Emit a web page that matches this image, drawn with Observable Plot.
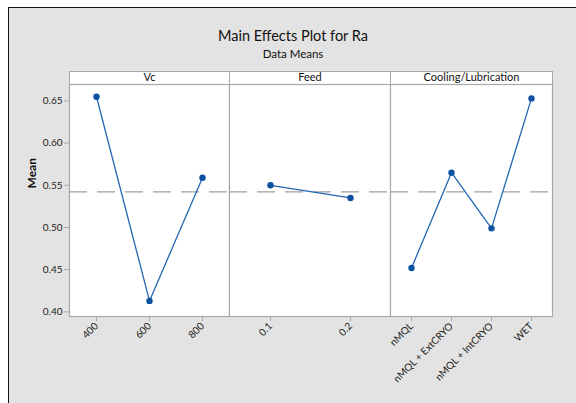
<!DOCTYPE html>
<html>
<head>
<meta charset="utf-8">
<script src="https://cdn.jsdelivr.net/npm/d3@7"></script>
<script src="https://cdn.jsdelivr.net/npm/@observablehq/plot@0.6"></script>
<style>
  body { margin: 0; width: 576px; height: 403px; background: #fff; position: relative; overflow: hidden;
         font-family: Lato, "Open Sans", sans-serif; }
  #backdrop { position: absolute; left: 8px; top: 7px; right: 0; bottom: 0; background: #e3e3e3;
              border-left: 1.5px solid #111; border-top: 1.5px solid #111; }
  .title { position: absolute; left: 193px; width: 200px; text-align: center; color: #111; }
  #t1 { top: 27px; font-size: 14.5px; }
  #t2 { top: 47px; font-size: 11.5px; }
  .strip { position: absolute; top: 71px; height: 12px; background: #fff; border: 1px solid #a8a8a8; box-sizing: content-box; }
  .panel { position: absolute; top: 0; }
</style>
</head>
<body>
<div id="backdrop"></div>
<div class="title" id="t1">Main Effects Plot for Ra</div>
<div class="title" id="t2">Data Means</div>
<div id="chart"></div>
<script>
// Factor names and level means of Ra
const factors = ["Vc", "Feed", "Cooling/Lubrication"];
const vcLevels = ["400", "600", "800"];
const vcMeans = [0.655, 0.413, 0.559];
const feedLevels = ["0.1", "0.2"];
const feedMeans = [0.550, 0.535];
const coolLevels = ["nMQL", "nMQL + ExtCRYO", "nMQL + IntCRYO", "WET"];
const coolMeans = [0.452, 0.565, 0.499, 0.653];
const yTicks = [0.40, 0.45, 0.50, 0.55, 0.60, 0.65];

// overall mean of the response (balanced design)
const grandMean = d3.mean(vcMeans);

const yDomain = [0.3945, 0.6695];
const lineColor = "#2366b4";
const dotColor = "#0b519f";
const gridGray = "#a8a8a8";

const panels = [
  {factor: factors[0], levels: vcLevels, means: vcMeans, left: 0, width: 229, ml: 69, mr: 0, yAxis: true},
  {factor: factors[1], levels: feedLevels, means: feedMeans, left: 229, width: 161, ml: 0, mr: 0, yAxis: false},
  {factor: factors[2], levels: coolLevels, means: coolMeans, left: 390, width: 186, ml: 0, mr: 24, yAxis: false}
];

const chart = document.getElementById("chart");

for (const p of panels) {
  const data = p.levels.map((level, i) => ({level, mean: p.means[i]}));

  // header strip behind the panel
  const strip = document.createElement("div");
  strip.className = "strip";
  strip.style.left = (p.left + p.ml) + "px";
  strip.style.width = (p.width - p.ml - p.mr - 1) + "px";
  chart.appendChild(strip);

  const marks = [
    Plot.frame({fill: "white", stroke: gridGray, strokeWidth: 1.2}),
    Plot.ruleY([grandMean], {stroke: "#a0a0a0", strokeWidth: 1.2, strokeDasharray: "18,10"}),
    Plot.line(data, {x: "level", y: "mean", stroke: lineColor, strokeWidth: 1.3}),
    Plot.dot(data, {x: "level", y: "mean", r: 3.2, fill: dotColor}),
    Plot.text([p.factor], {frameAnchor: "top", dy: -7.5, lineAnchor: "middle", fontSize: 11, fill: "#111"}),
    Plot.axisX({tickRotate: -45, tickSize: 5, tickPadding: 3, fontSize: 10, stroke: gridGray, label: null, color: "#222"})
  ];
  if (p.yAxis) {
    marks.push(Plot.axisY({ticks: yTicks, tickFormat: ".2f", tickSize: 5, tickPadding: 2, fontSize: 10, stroke: gridGray, label: null, color: "#222"}));
    marks.push(Plot.text(["Mean"], {frameAnchor: "left", dx: -37, dy: -12, rotate: -90, fontSize: 12, fontWeight: "bold", fill: "#111"}));
  }

  const svg = Plot.plot({
    width: p.width,
    height: 403,
    marginLeft: p.ml,
    marginRight: p.mr,
    marginTop: 84,
    marginBottom: 87,
    style: {background: "transparent", overflow: "visible", fontFamily: "Lato, 'Open Sans', sans-serif"},
    x: {type: "point", domain: p.levels, padding: 0.5},
    y: p.yAxis ? {domain: yDomain} : {domain: yDomain, axis: null},
    marks
  });
  svg.classList.add("panel");
  svg.style.left = p.left + "px";
  chart.appendChild(svg);
}
</script>
</body>
</html>
